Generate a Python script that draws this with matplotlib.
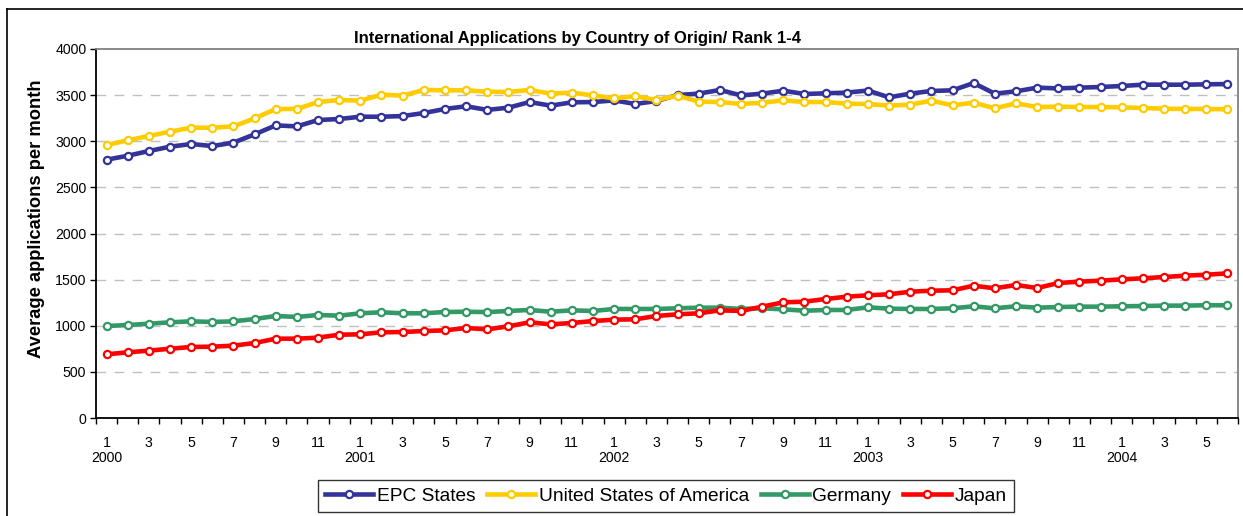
import matplotlib
matplotlib.use("Agg")
import matplotlib.pyplot as plt
from matplotlib.lines import Line2D
from matplotlib.transforms import blended_transform_factory

plt.rcParams['font.family'] = ['Liberation Sans', 'DejaVu Sans']

years = [2000, 2001, 2002, 2003, 2004]
months_per_year = [12, 12, 12, 12, 6]
month_numbers = [m for y, n in zip(years, months_per_year) for m in range(1, n + 1)]

epc = [2800, 2843, 2894, 2941, 2970, 2948, 2985, 3075, 3172, 3161, 3230, 3241,
       3266, 3266, 3273, 3306, 3350, 3379, 3340, 3364, 3425, 3386, 3422, 3425,
       3443, 3404, 3436, 3501, 3516, 3556, 3497, 3516, 3548, 3512, 3520, 3527,
       3550, 3476, 3516, 3545, 3552, 3631, 3516, 3541, 3581, 3573, 3581, 3588,
       3599, 3613, 3613, 3613, 3617, 3620]
usa = [2959, 3010, 3057, 3104, 3147, 3147, 3161, 3248, 3350, 3350, 3425, 3447,
       3440, 3505, 3494, 3556, 3552, 3552, 3537, 3534, 3556, 3516, 3527, 3497,
       3465, 3487, 3447, 3494, 3429, 3425, 3404, 3418, 3443, 3425, 3425, 3407,
       3404, 3386, 3397, 3440, 3389, 3418, 3357, 3411, 3371, 3375, 3371, 3371,
       3368, 3360, 3353, 3350, 3350, 3346]
germany = [997, 1008, 1022, 1037, 1048, 1041, 1048, 1073, 1106, 1095, 1117, 1109,
           1135, 1146, 1135, 1135, 1149, 1152, 1148, 1160, 1171, 1152, 1167, 1160,
           1182, 1182, 1182, 1189, 1196, 1196, 1182, 1189, 1178, 1163, 1171, 1171,
           1200, 1185, 1182, 1182, 1189, 1211, 1189, 1211, 1196, 1203, 1207, 1207,
           1211, 1214, 1218, 1218, 1222, 1222]
japan = [690, 712, 730, 751, 770, 773, 784, 813, 860, 860, 871, 903,
         907, 929, 932, 943, 950, 976, 961, 994, 1037, 1015, 1030, 1051,
         1066, 1070, 1106, 1124, 1135, 1167, 1160, 1207, 1254, 1261, 1290, 1315,
         1330, 1341, 1369, 1380, 1384, 1434, 1406, 1442, 1409, 1463, 1478, 1489,
         1503, 1514, 1528, 1543, 1553, 1568]

series_names = ["EPC States", "United States of America", "Germany", "Japan"]
series_values = [epc, usa, germany, japan]
series_colors = ["#333399", "#FFCC00", "#339966", "#FF0000"]

y_ticks = [0, 500, 1000, 1500, 2000, 2500, 3000, 3500, 4000]

W, H = 1243, 516
fig = plt.figure(figsize=(W / 100, H / 100), dpi=100)
ax = fig.add_axes([96 / W, 1 - 418 / H, (1238 - 96) / W, (418 - 49) / H])

n = len(month_numbers)
x = list(range(n))
handles = []
for name, vals, col in zip(series_names, series_values, series_colors):
    h, = ax.plot(x, vals, color=col, lw=3.3, marker='o', markersize=5.2,
                 markerfacecolor='white', markeredgecolor=col, markeredgewidth=1.6,
                 label=name, solid_joinstyle='round', clip_on=False)
    handles.append(h)

ax.set_xlim(-0.5, n - 0.5)
ax.set_ylim(0, 4000)
ax.set_yticks(y_ticks)
ax.set_yticklabels([str(v) for v in y_ticks], fontsize=10.2)
ax.tick_params(axis='y', direction='out', length=4, width=1, pad=3)

# grid
for v in y_ticks[1:-1]:
    ax.axhline(v, color='#c0c0c0', lw=1, dashes=(7, 6), zorder=0)

# x ticks: marks at category boundaries, labels at odd months
ax.set_xticks([i - 0.5 for i in range(n + 1)], minor=True)
ax.tick_params(axis='x', which='minor', direction='out', length=4, width=1)
major = [i for i, m in enumerate(month_numbers) if m % 2 == 1]
ax.set_xticks(major)
ax.set_xticklabels([str(month_numbers[i]) for i in major], fontsize=10.2)
ax.tick_params(axis='x', which='major', length=0, pad=13)

trans = blended_transform_factory(ax.transData, ax.transAxes)
start = 0
for yr, cnt in zip(years, months_per_year):
    ax.text(start, -39.5 / 369, str(yr), transform=trans, ha='center', va='center',
            fontsize=10.2)
    start += cnt

for s in ['left', 'bottom']:
    ax.spines[s].set_color('black')
    ax.spines[s].set_linewidth(1.3)
for s in ['top', 'right']:
    ax.spines[s].set_color('#808080')
    ax.spines[s].set_linewidth(1.3)

fig.text(578 / W, 1 - 38 / H, "International Applications by Country of Origin/ Rank 1-4",
         ha='center', va='center', fontsize=12, fontweight='bold')
fig.text(37 / W, 1 - 219 / H, "Average applications per month", rotation=90,
         ha='center', va='center', fontsize=13.2, fontweight='bold')

leg = fig.legend(handles=handles, loc='center', bbox_to_anchor=(666 / W, 1 - 496 / H),
                 ncol=4, fontsize=13.8, frameon=True, fancybox=False,
                 handlelength=2.5, handletextpad=0.2, columnspacing=0.6,
                 borderpad=0.4, borderaxespad=0)
leg.get_frame().set_edgecolor('black')
leg.get_frame().set_linewidth(1.0)

# outer chart-area border (left and top visible)
fig.add_artist(Line2D([7 / W, 7 / W], [0, 1 - 9 / H], color='black', lw=1.2,
                      transform=fig.transFigure))
fig.add_artist(Line2D([7 / W, 1], [1 - 9 / H, 1 - 9 / H], color='black', lw=1.2,
                      transform=fig.transFigure))

fig.savefig("out.png", dpi=100)
